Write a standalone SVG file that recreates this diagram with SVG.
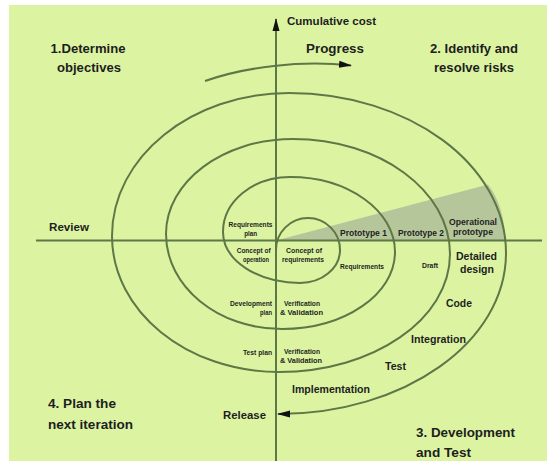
<svg xmlns="http://www.w3.org/2000/svg" width="547" height="461" viewBox="0 0 547 461">
<defs>
<style>
.bg{fill:#dcf4a2}
.ln{fill:none;stroke:#5d7746;stroke-width:2}
.wedge{fill:#b6c69b}
.t{font-family:"Liberation Sans",Arial,sans-serif;font-weight:bold;fill:#1e1e1e}
.b13{font-size:13.5px}
.b12{font-size:11.5px}
.b9{font-size:9px}
.s7{font-size:7px}
</style>
<marker id="ah" viewBox="0 0 13 8" markerWidth="13" markerHeight="8" refX="12" refY="4" orient="auto" markerUnits="userSpaceOnUse">
<path d="M0,0.5 L13,4 L0,7.5 z" fill="#111"/>
</marker>
</defs>
<rect x="0" y="0" width="547" height="461" fill="#ffffff"/>
<rect class="bg" x="9" y="5" width="538" height="456"/>
<g id="wedge">
<path class="wedge" d="M276,240.5 L488,184.5 Q504,205 505.5,240.5 Z"/>
</g>
<g id="connectors">
<line id="axis-v" class="ln" x1="276" y1="461" x2="276" y2="19" marker-end="url(#ah)"/>
<line id="axis-h" class="ln" x1="36" y1="240.5" x2="542" y2="240.5"/>
<path id="spiral" class="ln" marker-end="url(#ah)" d="M276,250 C276,232.3 290.3,218 308,218 C325.7,218 340,232.3 340,250 C340,268.2 322.1,283 300,283 C257.5,283 223,260.2 223,232 C223,201.6 253,177 290,177 C348,177 395,210.6 395,252 C395,294.5 344.4,329 282,329 C218,329 166,286.4 166,234 C166,181.6 222.9,139 293,139 C379.7,139 450,190.5 450,254 C450,319.1 373.4,372 279,372 C186.8,372 112,311.1 112,236 C112,157.1 191.3,93 289,93 C408.8,93 506,164.7 506,253 C506,341.9 404.3,414 278,414"/>
<path id="progress-arrow" class="ln" marker-end="url(#ah)" d="M205,81 C245,67 300,60 351,65.5"/>
</g>
<g id="quadrant-labels">
<g id="q1"><text class="t b13" x="88" y="53" text-anchor="middle" textLength="75" lengthAdjust="spacingAndGlyphs">1.Determine</text>
<text class="t b13" x="89" y="71.5" text-anchor="middle" textLength="64" lengthAdjust="spacingAndGlyphs">objectives</text></g>
<g id="q2"><text class="t b13" x="474" y="53" text-anchor="middle" textLength="88" lengthAdjust="spacingAndGlyphs">2. Identify and</text>
<text class="t b13" x="474" y="71.5" text-anchor="middle" textLength="80" lengthAdjust="spacingAndGlyphs">resolve risks</text></g>
<g id="q3"><text class="t b13" x="416" y="437" textLength="99" lengthAdjust="spacingAndGlyphs">3. Development</text>
<text class="t b13" x="416" y="456.5" textLength="55" lengthAdjust="spacingAndGlyphs">and Test</text></g>
<g id="q4"><text class="t b13" x="48" y="408" textLength="68" lengthAdjust="spacingAndGlyphs">4. Plan the</text>
<text class="t b13" x="48" y="429" textLength="85" lengthAdjust="spacingAndGlyphs">next iteration</text></g>
</g>
<g id="axis-labels">
<text id="cumulative-cost" class="t b12" x="287" y="25" textLength="89" lengthAdjust="spacingAndGlyphs">Cumulative cost</text>
<text id="progress" class="t b13" x="335" y="52.5" text-anchor="middle" textLength="58" lengthAdjust="spacingAndGlyphs">Progress</text>
<text id="review" class="t b12" x="49" y="231" textLength="40" lengthAdjust="spacingAndGlyphs">Review</text>
<text id="release" class="t b12" x="223" y="419" textLength="43" lengthAdjust="spacingAndGlyphs">Release</text>
</g>
<g id="phase-labels">
<text id="implementation" class="t b12" x="292" y="392.5" textLength="78" lengthAdjust="spacingAndGlyphs">Implementation</text>
<text id="test" class="t b12" x="385" y="370" textLength="21" lengthAdjust="spacingAndGlyphs">Test</text>
<text id="integration" class="t b12" x="411" y="342.5" textLength="55" lengthAdjust="spacingAndGlyphs">Integration</text>
<text id="code" class="t b12" x="446" y="306.5" textLength="26" lengthAdjust="spacingAndGlyphs">Code</text>
<g id="detailed-design"><text class="t b12" x="456" y="259.5" textLength="41" lengthAdjust="spacingAndGlyphs">Detailed</text>
<text class="t b12" x="460" y="272.5" textLength="34" lengthAdjust="spacingAndGlyphs">design</text></g>
</g>
<g id="prototype-labels">
<text id="prototype1" class="t b9" x="340" y="236" textLength="47" lengthAdjust="spacingAndGlyphs">Prototype 1</text>
<text id="prototype2" class="t b9" x="398" y="235.5" textLength="46" lengthAdjust="spacingAndGlyphs">Prototype 2</text>
<g id="operational-prototype"><text class="t b9" x="473" y="224.5" text-anchor="middle" textLength="48" lengthAdjust="spacingAndGlyphs">Operational</text>
<text class="t b9" x="473" y="235" text-anchor="middle" textLength="40" lengthAdjust="spacingAndGlyphs">prototype</text></g>
</g>
<g id="small-labels">
<g id="requirements-plan"><text class="t s7" x="250.5" y="227" text-anchor="middle" textLength="44" lengthAdjust="spacingAndGlyphs">Requirements</text>
<text class="t s7" x="250.7" y="235.5" text-anchor="middle" textLength="13" lengthAdjust="spacingAndGlyphs">plan</text></g>
<g id="concept-of-operation"><text class="t s7" x="253.7" y="252.5" text-anchor="middle" textLength="34" lengthAdjust="spacingAndGlyphs">Concept of</text>
<text class="t s7" x="256" y="261.5" text-anchor="middle" textLength="26" lengthAdjust="spacingAndGlyphs">operation</text></g>
<g id="concept-of-requirements"><text class="t s7" x="304" y="252.5" text-anchor="middle" textLength="36" lengthAdjust="spacingAndGlyphs">Concept of</text>
<text class="t s7" x="303" y="261.5" text-anchor="middle" textLength="42" lengthAdjust="spacingAndGlyphs">requirements</text></g>
<text id="requirements" class="t s7" x="340" y="268.5" textLength="44" lengthAdjust="spacingAndGlyphs">Requirements</text>
<text id="draft" class="t s7" x="422" y="267.5" textLength="16" lengthAdjust="spacingAndGlyphs">Draft</text>
<g id="development-plan"><text class="t s7" x="272" y="306" text-anchor="end" textLength="42" lengthAdjust="spacingAndGlyphs">Development</text>
<text class="t s7" x="272" y="314.5" text-anchor="end" textLength="12" lengthAdjust="spacingAndGlyphs">plan</text></g>
<g id="vv1"><text class="t s7" x="284" y="306" textLength="36" lengthAdjust="spacingAndGlyphs">Verification</text>
<text class="t s7" x="280" y="315" textLength="43" lengthAdjust="spacingAndGlyphs">&amp; Validation</text></g>
<text id="test-plan" class="t s7" x="272" y="354.5" text-anchor="end" textLength="29" lengthAdjust="spacingAndGlyphs">Test plan</text>
<g id="vv2"><text class="t s7" x="284" y="354" textLength="36" lengthAdjust="spacingAndGlyphs">Verification</text>
<text class="t s7" x="280" y="363" textLength="42" lengthAdjust="spacingAndGlyphs">&amp; Validation</text></g>
</g>
</svg>
